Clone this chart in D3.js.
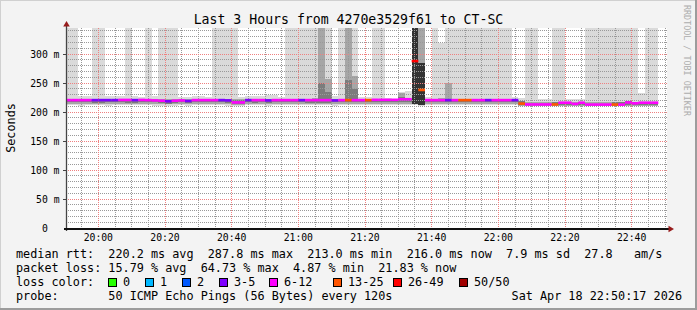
<!DOCTYPE html>
<html>
<head>
<meta charset="utf-8">
<script src="https://cdn.jsdelivr.net/npm/d3@7"></script>
<style>
  body { margin: 0; background: #f3f3f3; }
  svg { display: block; }
  text { font-family: "DejaVu Sans Mono", monospace; white-space: pre; }
</style>
</head>
<body>
<div id="chart"></div>
<script>
(function () {

  // values above the top of the graph (smoke clipped there)
  const L = 420

  // one entry per 2 minute step, starting 19:50
  const medianMs = [
    220.5, 220.5, 220.5, 220.5, 220.5, 220.5, 220.5, 220.5, 220.8, 220.8,
    220.5, 220.8, 220.5, 220.0, 219.5, 218.5, 219.5, 220.0, 219.0, 220.5,
    220.5, 220.5, 220.5, 220.5, 220.0, 216.5, 216.5, 220.5, 220.5, 220.5,
    220.0, 220.5, 220.5, 220.5, 220.5, 220.5, 220.5, 220.5, 220.5, 220.5,
    220.0, 220.5, 220.5, 220.5, 220.5, 220.5, 221.0, 221.0, 221.0, 221.0,
    222.0, 222.0, 287.8, 238.0, 220.5, 220.5, 220.5, 220.5, 220.5, 220.5,
    220.5, 220.5, 220.5, 220.5, 220.5, 220.5, 220.5, 220.5, 214.5, 213.0,
    213.0, 213.0, 213.0, 213.0, 216.0, 216.0, 214.0, 216.0, 212.8, 212.8,
    212.8, 212.8, 212.8, 212.8, 216.5, 215.0, 216.0, 216.0, 216.0
  ]

  // index into lossLabels
  const lossIdx = [
    4, 4, 4, 4, 3, 3, 3, 3, 4, 4,
    3, 4, 4, 4, 4, 3, 4, 4, 3, 4,
    4, 4, 4, 3, 3, 4, 4, 3, 4, 4,
    3, 4, 4, 4, 4, 3, 4, 4, 4, 4,
    3, 4, 5, 4, 4, 5, 4, 4, 4, 4,
    4, 4, 6, 5, 4, 4, 4, 3, 4, 5,
    5, 4, 4, 3, 4, 4, 4, 3, 5, 4,
    4, 4, 4, 5, 4, 4, 4, 4, 4, 4,
    4, 4, 5, 4, 4, 4, 4, 4, 4
  ]

  // smoke: outer envelope
  const maxMs = [
    L, L, 227, 227, L, L, 227, 228, 227, L,
    227, 226, L, 228, L, L, L, 226, 226, 227,
    228, 226, L, L, L, L, 226, 228, 227, 228,
    229, 229, 226, L, L, L, L, L, L, L,
    227, L, L, L, 226, 226, L, L, 225, 223,
    234, 236, L, L, 226, L, 319, L, L, L,
    L, L, L, L, L, L, L, 226, 224, L,
    L, 223, 223, L, L, 222, 222, 222, L, L,
    L, L, L, L, L, L, 233, L, L
  ]
  const minMs = [
    211.5, 211.5, 211.0, 211.5, 211.5, 211.5, 211.0, 211.5, 211.5, 211.5,
    211.5, 211.5, 211.5, 211.0, 211.0, 210.5, 211.0, 211.5, 211.0, 211.5,
    211.5, 211.5, 211.5, 211.5, 211.0, 210.0, 210.0, 211.5, 211.5, 211.5,
    211.0, 211.5, 211.5, 211.5, 211.5, 211.5, 211.5, 211.5, 211.5, 211.5,
    211.0, 211.5, 211.5, 211.5, 211.5, 211.5, 211.5, 211.5, 211.5, 211.5,
    211.5, 211.5, 212.0, 211.0, 211.5, 211.5, 211.5, 211.5, 211.5, 211.5,
    211.5, 211.5, 211.5, 211.5, 211.5, 211.5, 211.5, 211.5, 209.5, 209.5,
    209.5, 209.5, 209.5, 209.5, 209.5, 209.5, 209.5, 209.5, 209.5, 209.5,
    209.5, 209.5, 209.5, 209.5, 209.5, 209.5, 209.5, 209.5, 209.5
  ]

  // smoke: middle band
  const p90Ms = [
    222, 222, 222, 222, 222, 222, 222, 222, 222, 222,
    222, 222, 222, 222, 222, 222, 222, 222, 222, 222,
    222, 222, 222, 222, 222, 222, 222, 222, 222, 222,
    222, 222, 222, 222, 222, 222, 222, 224, L, 257,
    222, 222, L, 262, 222, 222, 222, 222, 222, 222,
    233, 224, L, L, 222, 222, 225, 250, 222, 222,
    222, 222, 222, 222, 222, 222, 222, 222, 218, 218,
    218, 218, 218, 218, 218, 218, 218, 218, 218, 218,
    218, 218, 218, 218, 218, 218, 218, 218, 218
  ]
  const p10Ms = [
    214, 214, 214, 214, 214, 214, 214, 214, 214, 214,
    214, 214, 214, 214, 213, 213, 213, 214, 213, 214,
    214, 214, 214, 214, 213, 212, 212, 214, 214, 214,
    213, 214, 214, 214, 214, 214, 214, 214, 214, 214,
    213, 214, 214, 214, 214, 214, 214, 214, 214, 214,
    214, 214, 214, 213, 214, 214, 214, 214, 214, 214,
    214, 214, 214, 214, 214, 214, 214, 214, 210.5, 210.5,
    210.5, 210.5, 210.5, 210.5, 210.5, 210.5, 210.5, 210.5, 210.5, 210.5,
    210.5, 210.5, 210.5, 210.5, 210.5, 210.5, 210.5, 210.5, 210.5
  ]

  // smoke: inner band
  const p75Ms = [
    221.5, 221.5, 221.5, 221.5, 221.5, 221.5, 221.5, 221.5, 221.5, 221.5,
    221.5, 221.5, 221.5, 221.5, 221.5, 221.5, 221.5, 221.5, 221.5, 221.5,
    221.5, 221.5, 221.5, 221.5, 221.5, 221.5, 221.5, 221.5, 221.5, 221.5,
    221.5, 221.5, 221.5, 221.5, 221.5, 221.5, 221.5, 221.5, 250, 235,
    221.5, 221.5, 255, 240, 221.5, 221.5, 221.5, 221.5, 221.5, 221.5,
    226, 223, 230, 245, 221.5, 221.5, 221.5, 221.5, 221.5, 221.5,
    221.5, 221.5, 221.5, 221.5, 221.5, 221.5, 221.5, 221.5, 219, 214,
    214, 214, 214, 218, 218, 214, 214, 217, 214, 214,
    214, 214, 217, 217, 219, 216, 216, 216, 216
  ]
  const p25Ms = [
    216.5, 216.5, 216.5, 216.5, 215.5, 215.5, 216.5, 216.5, 216.5, 215.5,
    215.5, 216.5, 216.5, 216.5, 215.0, 214.5, 215.0, 216.5, 215.0, 216.5,
    216.5, 216.5, 216.5, 216.5, 215.5, 213.5, 213.5, 216.5, 215.5, 216.5,
    215.5, 216.5, 216.5, 216.5, 216.5, 216.5, 215.5, 215.5, 215.5, 215.5,
    216.5, 216.5, 216.5, 216.5, 216.5, 216.5, 216.5, 216.5, 216.5, 216.5,
    216.5, 216.5, 215.0, 214.5, 216.5, 216.5, 216.5, 216.5, 216.5, 216.5,
    216.5, 216.5, 216.5, 216.5, 216.5, 216.5, 216.5, 216.5, 212, 212,
    212, 212, 212, 212, 212, 212, 212, 212, 212, 212,
    212, 212, 212, 212, 212, 212, 212, 212, 212
  ]

  // dark core of the two worst steps
  const darkSteps = [52, 53]
  const darkLoMs = [213, 212]
  const darkHiMs = [L, 284]

  const lossLabels = ["0", "1", "2", "3-5", "6-12", "13-25", "26-49", "50/50"]
  const lossColors = ["#26ff00", "#00b8ff", "#0059ff", "#7e00ff", "#ff00ff", "#ff5500", "#ff0000", "#a10000"]

  const yTicks = [0, 50, 100, 150, 200, 250, 300]

  const title = "Last 3 Hours from 4270e3529f61 to CT-SC"
  const rttLine = "median rtt:  220.2 ms avg  287.8 ms max  213.0 ms min  216.0 ms now  7.9 ms sd  27.8   am/s"
  const lossLine = "packet loss: 15.79 % avg  64.73 % max  4.87 % min  21.83 % now"
  const probeLine = "probe:       50 ICMP Echo Pings (56 Bytes) every 120s"
  const stampLine = "Sat Apr 18 22:50:17 2026"

  // Layout
  const W = 697, H = 310
  const plot = { left: 67, right: 667, top: 28, bottom: 228 }

  const svg = d3.select("#chart").append("svg")
      .attr("width", W)
      .attr("height", H)

  // dotted line patterns (1px on, 1px off)
  const defs = svg.append("defs")
  function dots(id, w, h, color) {
    const p = defs.append("pattern").attr("id", id)
        .attr("patternUnits", "userSpaceOnUse")
        .attr("width", w).attr("height", h)
    p.append("rect").attr("width", 1).attr("height", 1).attr("fill", color)
  }
  dots("hMinor", 2, 1, "#999999")
  dots("vMinor", 1, 2, "#999999")
  dots("hMajor", 2, 1, "#ef8080")
  dots("vMajor", 1, 2, "#ef8080")

  // background + 3d frame
  svg.append("rect").attr("width", W).attr("height", H).attr("fill", "#f3f3f3")
  svg.append("path").attr("d", `M0,${H} V0 H${W}`).attr("fill", "none")
      .attr("stroke", "#d0d0d0").attr("stroke-width", 2)
  svg.append("path").attr("d", `M0,${H - 1} H${W - 1} V0`).attr("fill", "none")
      .attr("stroke", "#9c9c9c").attr("stroke-width", 2)

  svg.append("rect")
      .attr("x", plot.left).attr("y", plot.top)
      .attr("width", plot.right - plot.left).attr("height", plot.bottom - plot.top)
      .attr("fill", "#ffffff")

  const x = d3.scaleTime()
      .domain([new Date(2026, 3, 18, 19, 50, 36), new Date(2026, 3, 18, 22, 50, 36)])
      .range([plot.left, plot.right])
  const yMax = 200 / 0.58
  const y = d3.scaleLinear()
      .domain([0, yMax])
      .range([plot.bottom, plot.top])

  const stepStart = new Date(2026, 3, 18, 19, 50, 0)
  const stepT = i => new Date(stepStart.getTime() + i * 120000)
  const x0 = i => x(stepT(i))
  const x1 = i => x(stepT(i + 1))
  const yc = v => y(Math.min(v, yMax + 5))

  svg.append("clipPath").attr("id", "plotclip")
    .append("rect")
      .attr("x", plot.left).attr("y", plot.top)
      .attr("width", plot.right - plot.left).attr("height", plot.bottom - plot.top)

  const g = svg.append("g").attr("clip-path", "url(#plotclip)")

  function band(lo, hi, color) {
    g.append("g").selectAll("rect")
      .data(medianMs.map((m, i) => i))
      .join("rect")
        .attr("x", i => x0(i))
        .attr("width", i => x1(i) - x0(i))
        .attr("y", i => yc(hi[i]))
        .attr("height", i => Math.max(0, yc(lo[i]) - yc(hi[i])))
        .attr("fill", color)
        .attr("shape-rendering", "crispEdges")
  }
  band(minMs, maxMs, "#dadada")
  band(p10Ms, p90Ms, "#a6a6a6")
  band(p25Ms, p75Ms, "#7c7c7c")

  g.append("g").selectAll("rect")
    .data(darkSteps)
    .join("rect")
      .attr("x", i => x0(i))
      .attr("width", i => x1(i) - x0(i))
      .attr("y", (i, k) => yc(darkHiMs[k]))
      .attr("height", (i, k) => yc(darkLoMs[k]) - yc(darkHiMs[k]))
      .attr("fill", "#333333")
      .attr("shape-rendering", "crispEdges")

  // grid (dotted, on top of the smoke)
  const minorX = d3.timeMinute.every(5).range(x.domain()[0], x.domain()[1])
  const majorX = d3.timeMinute.every(20).range(x.domain()[0], x.domain()[1])
  const minorY = d3.range(10, yMax, 10).filter(v => v % 50 !== 0)
  const row = v => Math.floor(v)

  const grid = svg.append("g").attr("shape-rendering", "crispEdges")
  function hLines(vals, pat) {
    grid.append("g").selectAll("rect").data(vals)
      .join("rect")
        .attr("x", plot.left).attr("width", plot.right - plot.left)
        .attr("y", v => row(y(v))).attr("height", 1)
        .attr("fill", `url(#${pat})`)
  }
  function vLines(vals, pat) {
    grid.append("g").selectAll("rect").data(vals)
      .join("rect")
        .attr("x", t => row(x(t))).attr("width", 1)
        .attr("y", plot.top).attr("height", plot.bottom - plot.top)
        .attr("fill", `url(#${pat})`)
  }
  hLines(minorY, "hMinor")
  vLines(minorX.filter(t => t.getMinutes() % 20 !== 0), "vMinor")
  hLines(yTicks.filter(v => v > 0), "hMajor")
  vLines(majorX, "vMajor")

  // median line coloured by loss, above the grid
  svg.append("g").attr("clip-path", "url(#plotclip)")
    .selectAll("rect")
    .data(medianMs)
    .join("rect")
      .attr("x", (d, i) => x0(i))
      .attr("width", (d, i) => x1(i) - x0(i))
      .attr("y", d => y(d) - 1.3)
      .attr("height", 2.6)
      .attr("fill", (d, i) => lossColors[lossIdx[i]])

  // axes
  svg.append("line")
      .attr("x1", plot.left - 0.5).attr("x2", plot.left - 0.5)
      .attr("y1", plot.bottom + 3).attr("y2", plot.top - 4)
      .attr("stroke", "#444").attr("stroke-width", 1.3)
  svg.append("line")
      .attr("x1", plot.left - 3).attr("x2", plot.right + 2)
      .attr("y1", plot.bottom + 1).attr("y2", plot.bottom + 1)
      .attr("stroke", "#111").attr("stroke-width", 2)
  svg.selectAll(".ytick").data(yTicks.filter(v => v > 0))
    .join("line")
      .attr("x1", plot.left - 4).attr("x2", plot.left)
      .attr("y1", v => row(y(v)) + 0.5).attr("y2", v => row(y(v)) + 0.5)
      .attr("stroke", "#444")
  svg.append("path")
      .attr("d", `M${plot.left - 0.5},${plot.top - 7} L${plot.left - 3.8},${plot.top - 1.5} L${plot.left + 2.8},${plot.top - 1.5} Z`)
      .attr("fill", "#971c1c")
  svg.append("path")
      .attr("d", `M${plot.right + 7},${plot.bottom + 1} L${plot.right + 1.5},${plot.bottom - 2.3} L${plot.right + 1.5},${plot.bottom + 4.3} Z`)
      .attr("fill", "#971c1c")

  // tick labels
  svg.selectAll(".ylab").data(yTicks)
    .join("text")
      .attr("x", 59.5)
      .attr("y", v => row(y(v)) + 4)
      .attr("text-anchor", "end")
      .attr("font-size", "9.75px")
      .attr("fill", "#000")
      .text(v => v === 0 ? "0  " : v + " m")

  svg.selectAll(".xlab").data(majorX)
    .join("text")
      .attr("x", t => x(t))
      .attr("y", 240.5)
      .attr("text-anchor", "middle")
      .attr("font-size", "9.75px")
      .attr("fill", "#000")
      .text(d3.timeFormat("%H:%M"))

  // titles
  svg.append("text")
      .attr("x", W / 2).attr("y", 24)
      .attr("text-anchor", "middle")
      .attr("font-size", "13.2px")
      .text(title)
  svg.append("text")
      .attr("transform", "translate(14.7,128) rotate(-90)")
      .attr("text-anchor", "middle")
      .attr("font-size", "11.8px")
      .text("Seconds")
  svg.append("text")
      .attr("transform", "translate(684.3,5) rotate(90)")
      .attr("font-size", "8.4px")
      .attr("fill", "#adadad")
      .text("RRDTOOL / TOBI OETIKER")

  // legend
  const legend = svg.append("g").attr("font-size", "11.8px").attr("fill", "#000")
  legend.append("text").attr("x", 16).attr("y", 258.2).text(rttLine)
  legend.append("text").attr("x", 16).attr("y", 272.2).text(lossLine)
  legend.append("text").attr("x", 16).attr("y", 286.2).text("loss color:")
  legend.append("text").attr("x", 16).attr("y", 300.2).text(probeLine)
  legend.append("text").attr("x", 682).attr("y", 300.2).attr("text-anchor", "end").text(stampLine)

  const swatchX = [108.5, 145.5, 182.5, 219.5, 269.5, 333.5, 393.5, 459.5]
  const sw = legend.selectAll(".sw").data(lossLabels)
    .join("g")
      .attr("transform", (d, i) => `translate(${swatchX[i]},278.5)`)
  sw.append("rect")
      .attr("width", 8).attr("height", 8)
      .attr("fill", (d, i) => lossColors[i])
      .attr("stroke", "#000")
  sw.append("text")
      .attr("x", 14.5).attr("y", 7.7)
      .text(d => d)

})();
</script>
</body>
</html>
